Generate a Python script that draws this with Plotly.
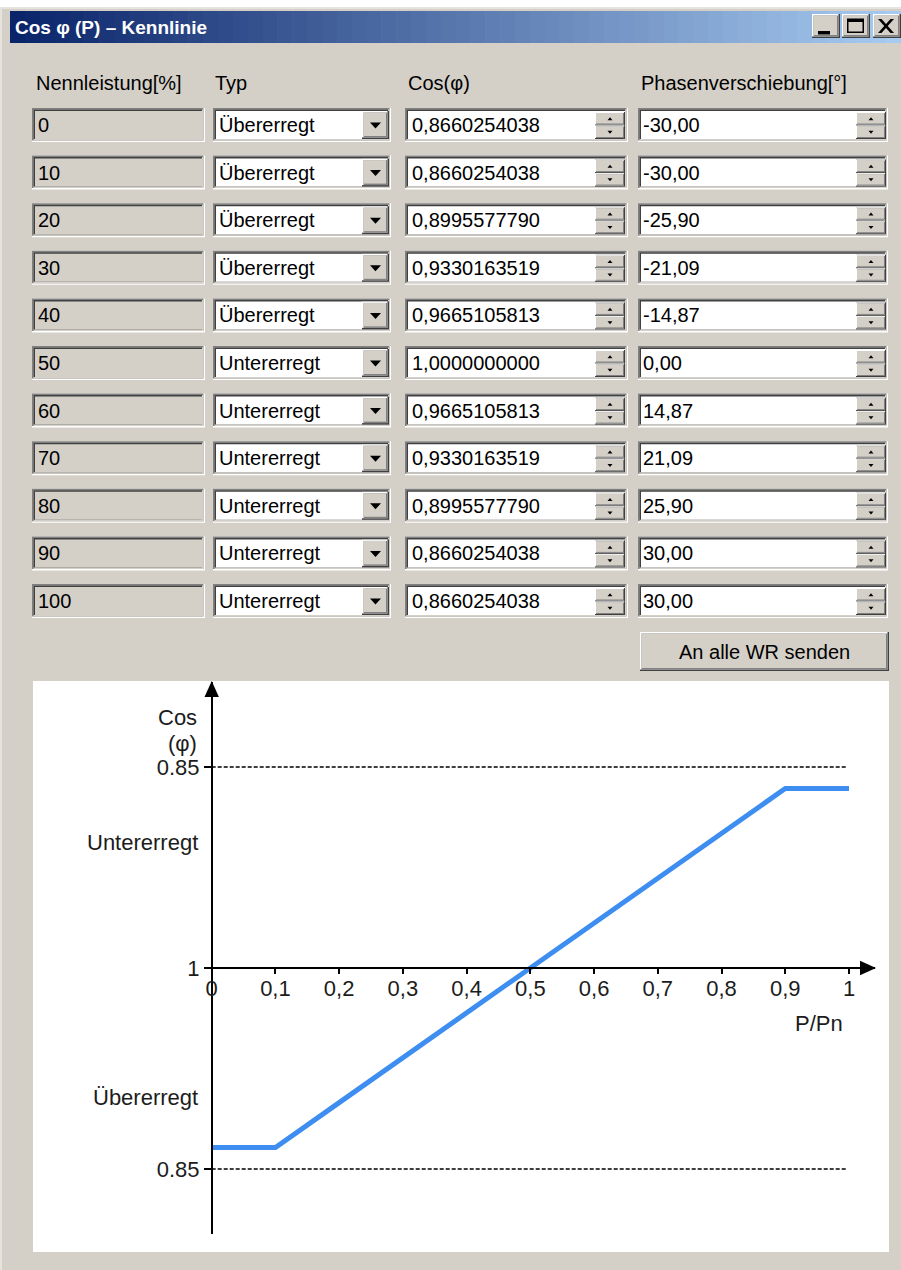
import plotly.graph_objects as go

# ---------------- data ----------------
nennleistung = [0, 10, 20, 30, 40, 50, 60, 70, 80, 90, 100]
typ = ["Übererregt"] * 5 + ["Untererregt"] * 6
cos_phi = [0.8660254038, 0.8660254038, 0.8995577790, 0.9330163519, 0.9665105813,
           1.0000000000, 0.9665105813, 0.9330163519, 0.8995577790, 0.8660254038,
           0.8660254038]
phase = [-30.00, -30.00, -25.90, -21.09, -14.87, 0.00, 14.87, 21.09, 25.90, 30.00, 30.00]
headers = ["Nennleistung[%]", "Typ", "Cos(φ)", "Phasenverschiebung[°]"]
cos_limit = 0.85
x_ticks = [0, 0.1, 0.2, 0.3, 0.4, 0.5, 0.6, 0.7, 0.8, 0.9, 1]
x_tick_text = ["0", "0,1", "0,2", "0,3", "0,4", "0,5", "0,6", "0,7", "0,8", "0,9", "1"]
title = "Cos φ (P) – Kennlinie"
button_label = "An alle WR senden"

W, H = 901, 1270
UI = "Liberation Sans, Arial, sans-serif"
SANS = "Liberation Sans, Arial, sans-serif"
FACE = "#D4D0C8"
UI_SIZE = 20

def X(p):
    return p / W

def Y(p):
    return 1 - p / H

shapes = []
annotations = []

def rect(x0, y0, x1, y1, color):
    shapes.append(dict(type="rect", xref="paper", yref="paper",
                       x0=X(x0), x1=X(x1), y0=Y(y1), y1=Y(y0),
                       fillcolor=color, line=dict(width=0), layer="below"))

def poly(points, color):
    path = "M " + " L ".join(f"{X(a):.6f},{Y(b):.6f}" for a, b in points) + " Z"
    shapes.append(dict(type="path", xref="paper", yref="paper", path=path,
                       fillcolor=color, line=dict(width=0), layer="below"))

def text(x, y, s, size, color="#000000", family=UI, xanchor="left", bold=False):
    annotations.append(dict(x=X(x), y=Y(y), xref="paper", yref="paper", text=s,
                            showarrow=False, xanchor=xanchor, yanchor="middle",
                            font=dict(size=size, color=color, family=family,
                                      weight="bold" if bold else "normal")))

B = 1.5

def sunken(x0, y0, x1, y1, fill):
    rect(x0, y0, x1, y1, "#FFFFFF")
    rect(x0, y0, x1 - B, y1 - B, "#808080")
    rect(x0 + B, y0 + B, x1 - B, y1 - B, FACE)
    rect(x0 + B, y0 + B, x1 - 2 * B, y1 - 2 * B, "#404040")
    rect(x0 + 2 * B, y0 + 2 * B, x1 - 2 * B, y1 - 2 * B, fill)

def raised(x0, y0, x1, y1, b=B):
    rect(x0, y0, x1, y1, "#404040")
    rect(x0, y0, x1 - b, y1 - b, "#FFFFFF")
    rect(x0 + b, y0 + b, x1 - b, y1 - b, "#808080")
    rect(x0 + b, y0 + b, x1 - 2 * b, y1 - 2 * b, FACE)

def spinner(x0, y0, x1, y1):
    mid = (y0 + y1) / 2
    raised(x0, y0, x1, mid, 1)
    raised(x0, mid, x1, y1, 1)
    cx = (x0 + x1) / 2
    cu = (y0 + mid) / 2
    cd = (mid + y1) / 2
    poly([(cx - 2.5, cu + 1.5), (cx + 2.5, cu + 1.5), (cx, cu - 1.5)], "#000000")
    poly([(cx - 2.5, cd - 1.5), (cx + 2.5, cd - 1.5), (cx, cd + 1.5)], "#000000")

# ---------------- window frame ----------------
rect(0, 0, W, 7, "#FFFFFF")
rect(0, 7, W, 9, "#E6E3DE")
rect(0, 9, 2, H, "#E6E3DE")
# title bar gradient
c0 = (0x0A, 0x24, 0x6A)
c1 = (0xA6, 0xCA, 0xF0)
tx0, tx1 = 10, 901
n = 60
for i in range(n):
    t = i / (n - 1)
    col = "rgb({},{},{})".format(*[round(a + (b - a) * t) for a, b in zip(c0, c1)])
    xa = tx0 + (tx1 - tx0) * i / n
    xb = tx0 + (tx1 - tx0) * (i + 1) / n + 0.6
    rect(xa, 11, min(xb, tx1), 43, col)
text(13, 27, title, 19, color="#FFFFFF", family=SANS, bold=True)

# caption buttons
for bx0, bx1 in [(812, 840), (842, 870), (873, 901)]:
    raised(bx0, 14, bx1, 38)
rect(818, 31, 830, 34.5, "#000000")              # minimize
rect(847, 18.5, 864, 33, "#000000")              # maximize
rect(848.5, 22, 862.5, 31.5, FACE)
poly([(878, 19), (881.5, 19), (894, 33), (890.5, 33)], "#000000")   # close X
poly([(890.5, 19), (894, 19), (881.5, 33), (878, 33)], "#000000")

# ---------------- table ----------------
for hx, h in zip([35, 214, 407, 640], headers):
    text(hx - 1, 83, h, UI_SIZE)

for i in range(len(nennleistung)):
    top = 108 + 47.6 * i
    bot = top + 34
    cy = (top + bot) / 2
    # Nennleistung (read-only)
    sunken(32, top, 205, bot, FACE)
    text(36, cy, str(nennleistung[i]), UI_SIZE)
    # Typ combo
    sunken(213, top, 391, bot, "#FFFFFF")
    raised(362, top + 3, 389, bot - 3)
    poly([(370, cy - 2.5), (381, cy - 2.5), (375.5, cy + 3.5)], "#000000")
    text(217, cy, typ[i], UI_SIZE)
    # Cos(phi)
    sunken(405, top, 628, bot, "#FFFFFF")
    spinner(595, top + 4, 625, bot - 3)
    text(410, cy, f"{cos_phi[i]:.10f}".replace(".", ","), UI_SIZE)
    # Phase
    sunken(638, top, 888, bot, "#FFFFFF")
    spinner(856, top + 4, 886, bot - 3)
    text(641, cy, f"{phase[i]:.2f}".replace(".", ","), UI_SIZE)

# send button
raised(640, 632, 889, 671)
text(764, 652, button_label, UI_SIZE, xanchor="center")

# ---------------- chart panel ----------------
rect(33, 681, 889, 1252, "#FFFFFF")

X0_PX, X1_PX = 211.7, 849.0       # pixel positions of P/Pn = 0 and 1
AX_RIGHT = 875.0
AX_Y = 968.0                      # pixel row of cos = 1
PX_PER_UNIT = 1340.0
Y_TOP, Y_BOT = 682.0, 1234.0

x_range = [0, (AX_RIGHT - X0_PX) / (X1_PX - X0_PX)]
y_range = [-(Y_BOT - AX_Y) / PX_PER_UNIT, (AX_Y - Y_TOP) / PX_PER_UNIT]

# characteristic curve: signed distance from cos = 1 (untererregt up)
p_pn = [v / 100 for v in nennleistung]
y_curve = [(1 - c) * (1 if t == "Untererregt" else -1) for c, t in zip(cos_phi, typ)]
lim = 1 - cos_limit

fig = go.Figure()
for yy in (lim, -lim):
    fig.add_trace(go.Scatter(x=[0, 0.997], y=[yy, yy], mode="lines",
                             line=dict(color="#000000", width=1.3, dash="4px,2px"),
                             hoverinfo="skip", showlegend=False))
fig.add_trace(go.Scatter(x=p_pn, y=y_curve, mode="lines",
                         line=dict(color="#3D8EF0", width=5), showlegend=False))

# axis arrows
poly([(211.7, 681), (204.5, 697), (218.9, 697)], "#000000")
poly([(876, AX_Y), (860, AX_Y - 7.2), (860, AX_Y + 7.2)], "#000000")

CH = "#1c1c1c"
CS = 22
text(199, 718, "Cos", CS, color=CH, family=SANS, xanchor="right")
text(199, 743, "(φ)", CS, color=CH, family=SANS, xanchor="right")
text(200, 842, "Untererregt", CS, color=CH, family=SANS, xanchor="right")
text(200, 1097, "Übererregt", CS, color=CH, family=SANS, xanchor="right")
text(819, 1023, "P/Pn", CS, color=CH, family=SANS, xanchor="center")

fig.update_layout(
    template="none",
    width=W, height=H, autosize=False,
    margin=dict(l=0, r=0, t=0, b=0, pad=0),
    paper_bgcolor=FACE, plot_bgcolor="rgba(0,0,0,0)",
    shapes=shapes, annotations=annotations, showlegend=False,
    xaxis=dict(domain=[X(X0_PX), X(AX_RIGHT)], range=x_range, anchor="free",
               position=Y(AX_Y), showline=True, linecolor="#000000", linewidth=1.5,
               ticks="outside", ticklen=5, tickwidth=1.5, tickcolor="#000000",
               ticklabelstandoff=-4, automargin=False,
               tickvals=x_ticks, ticktext=x_tick_text, showgrid=False, zeroline=False,
               tickfont=dict(size=CS, color=CH, family=SANS), fixedrange=True),
    yaxis=dict(domain=[Y(Y_BOT), Y(Y_TOP)], range=y_range, anchor="free",
               position=X(X0_PX), showline=True, linecolor="#000000", linewidth=1.5,
               ticks="outside", ticklen=7, tickwidth=1.5, tickcolor="#000000",
               automargin=False,
               tickvals=[lim, 0, -lim], ticktext=[f"{cos_limit:.2f}", "1", f"{cos_limit:.2f}"],
               showgrid=False, zeroline=False,
               tickfont=dict(size=CS, color=CH, family=SANS), fixedrange=True),
)

fig.write_html("out.html", config={"displayModeBar": False},
               post_script="document.body.style.margin='0';document.body.style.overflow='hidden';")
